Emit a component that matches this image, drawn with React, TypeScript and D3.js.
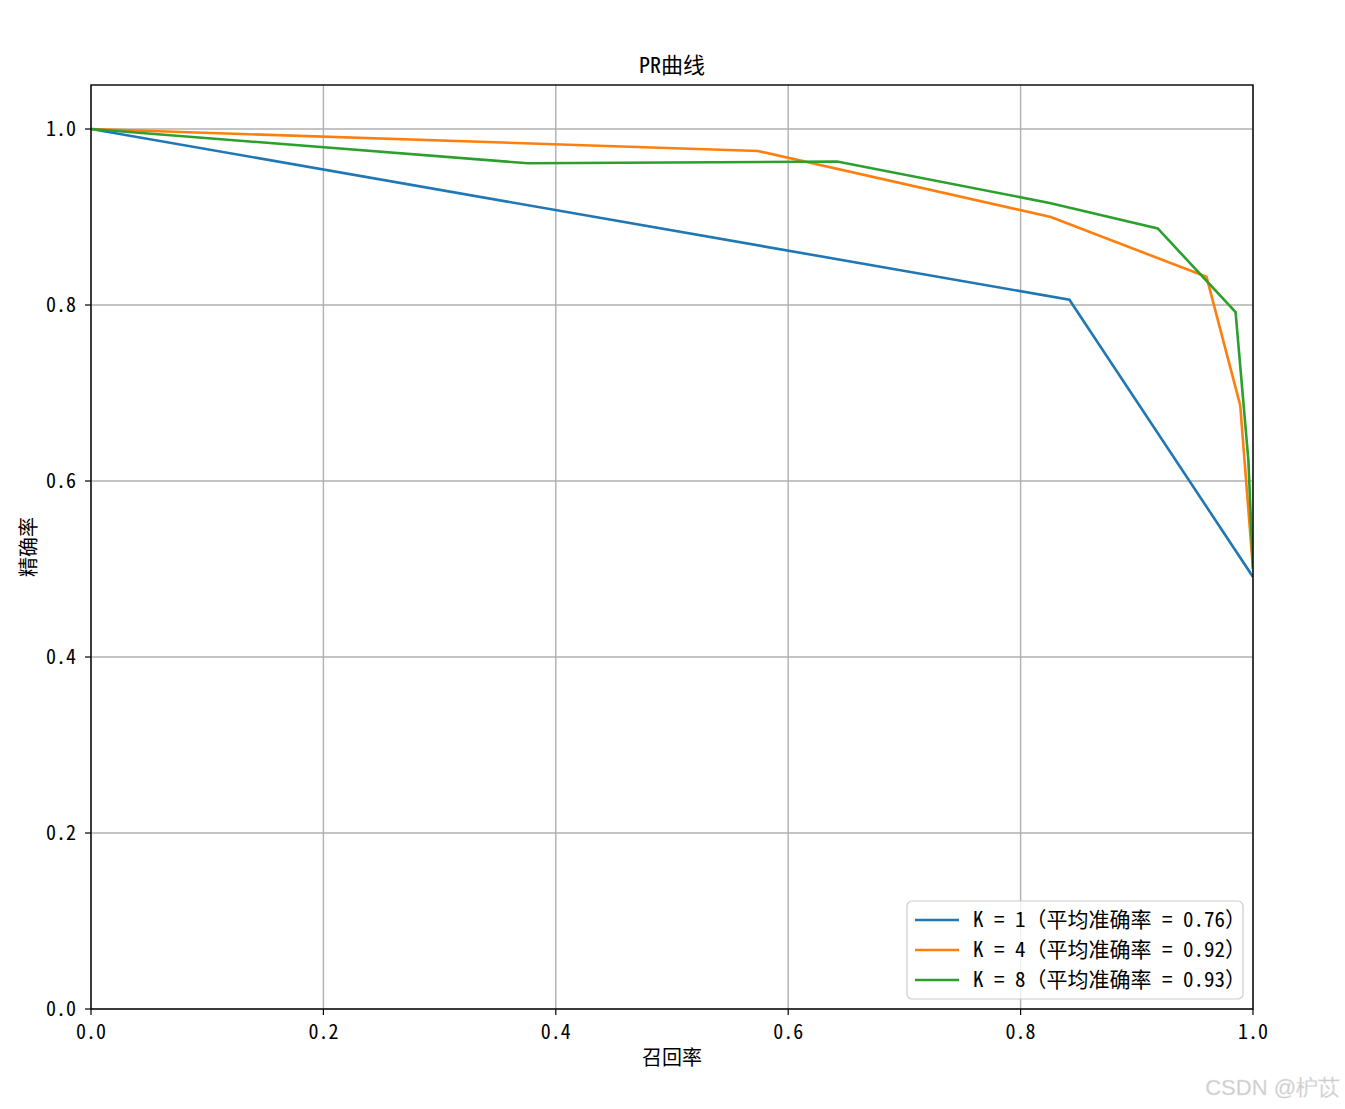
import React from "react";
import * as d3 from "d3";

const seriesNames = ["K = 1（平均准确率 = 0.76）", "K = 4（平均准确率 = 0.92）", "K = 8（平均准确率 = 0.93）"];
const seriesColors = ["#1f77b4", "#ff7f0e", "#2ca02c"];
const recallK1 = [0, 0.842, 1.0];
const precisionK1 = [1.0, 0.806, 0.491];
const recallK4 = [0, 0.574, 0.826, 0.96, 0.989, 1.0];
const precisionK4 = [1.0, 0.975, 0.9, 0.832, 0.686, 0.5];
const recallK8 = [0, 0.376, 0.642, 0.825, 0.918, 0.985, 0.996, 1.0];
const precisionK8 = [1.0, 0.961, 0.963, 0.916, 0.887, 0.792, 0.624, 0.5];
const xTicks = [0, 0.2, 0.4, 0.6, 0.8, 1.0];
const yTicks = [0, 0.2, 0.4, 0.6, 0.8, 1.0];

const W = 1345, H = 1109;
const L = 91, R = 1253, T = 85, B = 1009;
const FONT = '"Noto Sans Mono CJK SC", "Noto Sans CJK SC", sans-serif';

export default function App() {
  const x = d3.scaleLinear().domain([0, 1]).range([L, R]);
  const y = d3.scaleLinear().domain([0, 1.05]).range([B, T]);
  const series = [
    { r: recallK1, p: precisionK1 },
    { r: recallK4, p: precisionK4 },
    { r: recallK8, p: precisionK8 },
  ];
  const line = d3.line<[number, number]>().x((d) => x(d[0])).y((d) => y(d[1]));
  const fmt = d3.format(".1f");
  return (
    <svg width={W} height={H} style={{ position: "absolute", left: 0, top: 0, background: "#fff" }} fontFamily={FONT}>
      <defs>
        <clipPath id="plot"><rect x={L} y={T} width={R - L} height={B - T} /></clipPath>
      </defs>
      <rect x={0} y={0} width={W} height={H} fill="#fff" />
      {xTicks.map((t) => (
        <line key={"gx" + t} x1={x(t)} x2={x(t)} y1={T} y2={B} stroke="#b0b0b0" strokeWidth={1.4} />
      ))}
      {yTicks.map((t) => (
        <line key={"gy" + t} x1={L} x2={R} y1={y(t)} y2={y(t)} stroke="#b0b0b0" strokeWidth={1.4} />
      ))}
      <g clipPath="url(#plot)">
        {series.map((s, i) => (
          <path key={i} d={line(s.r.map((v, j) => [v, s.p[j]] as [number, number])) || ""} fill="none" stroke={seriesColors[i]} strokeWidth={2.6} strokeLinejoin="miter" />
        ))}
      </g>
      <rect x={L} y={T} width={R - L} height={B - T} fill="none" stroke="#000" strokeWidth={1.4} />
      {xTicks.map((t) => (
        <g key={"tx" + t}>
          <line x1={x(t)} x2={x(t)} y1={B} y2={B + 6} stroke="#000" strokeWidth={1.2} />
          <text x={x(t)} y={1039} textAnchor="middle" fontSize={20} fill="#000">{fmt(t)}</text>
        </g>
      ))}
      {yTicks.map((t) => (
        <g key={"ty" + t}>
          <line x1={L - 6} x2={L} y1={y(t)} y2={y(t)} stroke="#000" strokeWidth={1.2} />
          <text x={76} y={y(t) + 7} textAnchor="end" fontSize={20} fill="#000">{fmt(t)}</text>
        </g>
      ))}
      <text x={(L + R) / 2} y={73} textAnchor="middle" fontSize={22} fill="#000">PR曲线</text>
      <text x={(L + R) / 2} y={1065} textAnchor="middle" fontSize={20} fill="#000">召回率</text>
      <text transform={`translate(36, ${(T + B) / 2}) rotate(-90)`} textAnchor="middle" fontSize={20} fill="#000">精确率</text>
      <g>
        <rect x={907} y={901} width={336} height={98} rx={5} fill="#fff" fillOpacity={0.8} stroke="#cccccc" strokeWidth={1.2} />
        {seriesNames.map((n, i) => (
          <g key={n}>
            <line x1={915} x2={959} y1={920 + i * 30} y2={920 + i * 30} stroke={seriesColors[i]} strokeWidth={2.6} />
            <text x={973} y={920 + i * 30 + 7} fontSize={21} fill="#000">{n}</text>
          </g>
        ))}
      </g>
      <text x={1340} y={1095} textAnchor="end" fontSize={22} fontFamily='"Liberation Sans", Arial, sans-serif' fill="#cccccc" stroke="#e8e8e8" strokeWidth={0.3}>CSDN @枦苡</text>
    </svg>
  );
}
